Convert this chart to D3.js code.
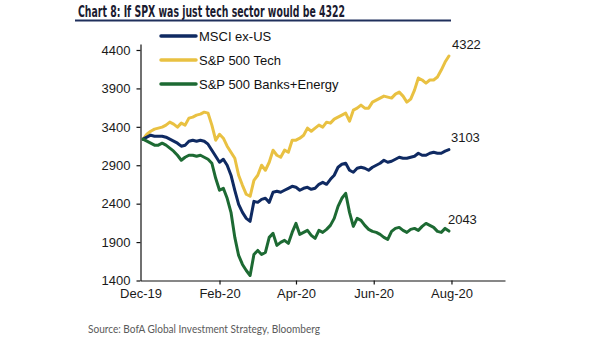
<!DOCTYPE html>
<html>
<head>
<meta charset="utf-8">
<script src="https://cdn.jsdelivr.net/npm/d3@7"></script>
<style>
  html, body { margin: 0; padding: 0; background: #fff; }
  svg { display: block; }
</style>
</head>
<body>
<svg width="605" height="341"></svg>
<script>
// sampled every third day
const dates = [
  "2019-12-03","2019-12-06","2019-12-09","2019-12-12","2019-12-15","2019-12-18","2019-12-21","2019-12-24","2019-12-27","2019-12-30",
  "2020-01-02","2020-01-05","2020-01-08","2020-01-11","2020-01-14","2020-01-17","2020-01-20","2020-01-23","2020-01-26","2020-01-29",
  "2020-02-01","2020-02-04","2020-02-07","2020-02-10","2020-02-13","2020-02-16","2020-02-19","2020-02-22","2020-02-25","2020-02-28",
  "2020-03-02","2020-03-05","2020-03-08","2020-03-11","2020-03-14","2020-03-17","2020-03-20","2020-03-23","2020-03-26","2020-03-29",
  "2020-04-01","2020-04-04","2020-04-07","2020-04-10","2020-04-13","2020-04-16","2020-04-19","2020-04-22","2020-04-25","2020-04-28",
  "2020-05-01","2020-05-04","2020-05-07","2020-05-10","2020-05-13","2020-05-16","2020-05-19","2020-05-22","2020-05-25","2020-05-28","2020-05-31",
  "2020-06-03","2020-06-06","2020-06-09","2020-06-12","2020-06-15","2020-06-18","2020-06-21","2020-06-24","2020-06-27","2020-06-30",
  "2020-07-03","2020-07-06","2020-07-09","2020-07-12","2020-07-15","2020-07-18","2020-07-21","2020-07-24","2020-07-27","2020-07-30"
];

const msciExUs = [
  3239,3265,3291,3278,3278,3278,3265,3239,3213,3187,
  3148,3161,3213,3226,3213,3226,3213,3174,3096,3017,
  2939,2978,2900,2770,2574,2391,2287,2209,2170,2430,
  2417,2456,2470,2417,2548,2561,2548,2574,2600,2626,
  2613,2574,2600,2613,2587,2600,2652,2678,2652,2717,
  2770,2874,2913,2926,2835,2809,2861,2874,2861,2835,2874,
  2900,2926,2965,2939,2952,2978,3004,2991,2991,3004,
  3017,3056,3030,3030,3056,3069,3056,3056,3083,3103
];

const spxTech = [
  3239,3304,3343,3370,3383,3396,3422,3461,3435,3396,
  3448,3422,3513,3526,3552,3565,3591,3578,3422,3226,
  3304,3252,3148,3069,2991,2770,2639,2522,2496,2704,
  2770,2900,2835,2939,3096,3030,3004,3096,3069,3226,
  3226,3252,3291,3383,3343,3383,3422,3396,3461,3448,
  3500,3526,3552,3578,3474,3617,3643,3683,3643,3643,3722,
  3748,3774,3800,3787,3774,3826,3852,3800,3722,3761,
  3878,4035,4009,3969,4009,4009,4048,4139,4243,4322
];

const banksEnergy = [
  3239,3213,3187,3161,3161,3187,3161,3122,3083,3030,
  2965,3004,3030,3030,3017,3030,3004,2978,2926,2730,
  2574,2600,2470,2287,1961,1726,1609,1530,1465,1739,
  1791,1739,1765,1961,2013,1857,1896,1922,1883,2026,
  2143,2000,2026,2052,1987,1948,2052,2026,2065,2117,
  2209,2365,2470,2535,2287,2104,2209,2183,2117,2065,2039,
  2026,2000,1961,1935,2039,2078,2091,2052,2026,2065,
  2078,2052,2104,2143,2117,2091,2039,2026,2078,2043
];

const seriesNames = ["MSCI ex-US", "S&P 500 Tech", "S&P 500 Banks+Energy"];
const seriesColors = ["#0f2a62", "#e9c142", "#1d6a33"];
const yTicks = [1400, 1900, 2400, 2900, 3400, 3900, 4400];
const xTicks = ["2019-12-01", "2020-02-01", "2020-04-01", "2020-06-01", "2020-08-01"];

const parse = d3.timeParse("%Y-%m-%d");
const svg = d3.select("svg");
const labelFont = "'Liberation Sans', Arial, sans-serif";

const x = d3.scaleTime()
  .domain([parse("2019-12-01"), parse("2020-09-12")])
  .range([140.5, 505]);

const y = d3.scaleLinear()
  .domain([1400, 4478])
  .range([280.5, 44]);

// title with rule underneath
svg.append("text")
  .attr("x", 78)
  .attr("y", 17)
  .attr("font-family", "'DejaVu Sans Condensed', 'Liberation Sans Narrow', sans-serif")
  .attr("font-stretch", "condensed")
  .attr("font-weight", "bold")
  .attr("font-size", 15.5)
  .attr("fill", "#1b1b30")
  .attr("textLength", 267)
  .attr("lengthAdjust", "spacingAndGlyphs")
  .text("Chart 8: If SPX was just tech sector would be 4322");

svg.append("line")
  .attr("x1", 75).attr("x2", 451)
  .attr("y1", 20.5).attr("y2", 20.5)
  .attr("stroke", "#1f2f5c")
  .attr("stroke-width", 2);

// axes
let yAxis = svg.append("g")
  .attr("transform", "translate(" + x.range()[0] + ",0)")
  .call(d3.axisLeft(y).tickValues(yTicks).tickSize(4).tickSizeOuter(0).tickFormat(d3.format("d")));

let xAxis = svg.append("g")
  .attr("transform", "translate(0," + y.range()[0] + ")")
  .call(d3.axisBottom(x)
    .tickValues(xTicks.map(parse))
    .tickSize(4)
    .tickSizeOuter(0)
    .tickFormat(d3.timeFormat("%b-%y")));

[yAxis, xAxis].forEach(function(a) {
  a.select(".domain").attr("stroke", "#111").attr("stroke-width", 1.2);
  a.selectAll(".tick line").attr("stroke", "#111").attr("stroke-width", 1.2);
  a.selectAll(".tick text")
    .attr("font-family", labelFont)
    .attr("font-size", 13)
    .attr("fill", "#1a1a1a");
});
yAxis.selectAll(".tick text").attr("x", -10);
xAxis.selectAll(".tick text").attr("y", 8);
// the Dec tick sits on the y axis
xAxis.selectAll(".tick line").filter(function(d, i) { return i === 0; }).remove();

// lines
const series = [msciExUs, spxTech, banksEnergy];
const line = d3.line()
  .x(function(d, i) { return x(parse(dates[i])); })
  .y(function(d) { return y(d); });

// draw tech first so the other two sit on top of it
[1, 0, 2].forEach(function(k) {
  svg.append("path")
    .datum(series[k])
    .attr("fill", "none")
    .attr("stroke", seriesColors[k])
    .attr("stroke-width", 3)
    .attr("stroke-linejoin", "round")
    .attr("stroke-linecap", "round")
    .attr("d", line);
});

// end-of-line value labels
const lastDate = parse(dates[dates.length - 1]);
const labelDx = [2, 3, -1];
series.forEach(function(s, k) {
  let v = s[s.length - 1];
  svg.append("text")
    .attr("x", x(lastDate) + labelDx[k])
    .attr("y", y(v) - 12)
    .attr("dy", "0.35em")
    .attr("font-family", labelFont)
    .attr("font-size", 13)
    .attr("fill", "#1a1a1a")
    .text(d3.format("d")(v));
});

// legend
let legend = svg.append("g")
  .selectAll("g")
  .data(seriesNames)
  .enter().append("g")
  .attr("transform", function(d, i) { return "translate(161," + (36 + i * 24) + ")"; });

legend.append("line")
  .attr("x1", 0).attr("x2", 35)
  .attr("stroke", function(d, i) { return seriesColors[i]; })
  .attr("stroke-width", 3.5)
  .attr("stroke-linecap", "round");

legend.append("text")
  .attr("x", 38)
  .attr("dy", "0.35em")
  .attr("font-family", labelFont)
  .attr("font-size", 13)
  .attr("fill", "#111")
  .text(function(d) { return d; });

// source note
svg.append("text")
  .attr("x", 88)
  .attr("y", 333)
  .attr("font-family", "Lato, 'Open Sans', sans-serif")
  .attr("font-size", 10.5)
  .attr("fill", "#5a5a5a")
  .attr("textLength", 232)
  .attr("lengthAdjust", "spacingAndGlyphs")
  .text("Source: BofA Global Investment Strategy, Bloomberg");
</script>
</body>
</html>
